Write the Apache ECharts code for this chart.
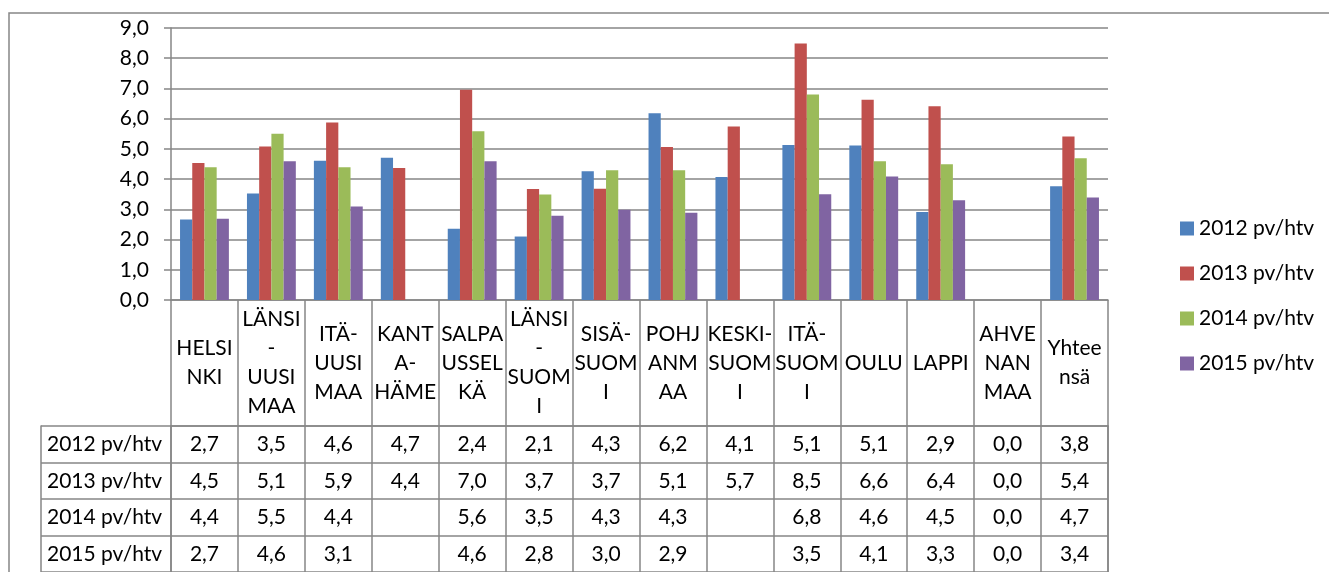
<!DOCTYPE html>
<html>
<head>
<meta charset="utf-8">
<script src="https://cdn.jsdelivr.net/npm/echarts@6/dist/echarts.min.js"></script>
<style>
  html, body { margin: 0; padding: 0; background: #fff; }
  #chart { width: 1329px; height: 572px; }
</style>
</head>
<body>
<div id="chart"></div>
<script>
const categories = [
  'HELSI\nNKI', 'LÄNSI\n-\nUUSI\nMAA', 'ITÄ-\nUUSI\nMAA', 'KANT\nA-\nHÄME', 'SALPA\nUSSEL\nKÄ',
  'LÄNSI\n-\nSUOM\nI', 'SISÄ-\nSUOM\nI', 'POHJ\nANM\nAA', 'KESKI-\nSUOM\nI', 'ITÄ-\nSUOM\nI',
  'OULU', 'LAPPI', 'AHVE\nNAN\nMAA', 'Yhtee\nnsä'
]
const seriesNames = ['2012 pv/htv', '2013 pv/htv', '2014 pv/htv', '2015 pv/htv']
const values2012 = [2.66, 3.52, 4.61, 4.71, 2.36, 2.10, 4.26, 6.18, 4.07, 5.13, 5.11, 2.91, 0, 3.76]
const values2013 = [4.53, 5.08, 5.87, 4.37, 6.96, 3.67, 3.68, 5.06, 5.74, 8.49, 6.63, 6.41, 0, 5.41]
const values2014 = [4.39, 5.50, 4.39, null, 5.58, 3.49, 4.29, 4.29, null, 6.80, 4.59, 4.49, 0, 4.69]
const values2015 = [2.69, 4.59, 3.09, null, 4.59, 2.79, 2.99, 2.89, null, 3.50, 4.09, 3.30, 0, 3.39]
const yTicks = [0, 1, 2, 3, 4, 5, 6, 7, 8, 9]
const colors = ['#4F81BD', '#C0504D', '#9BBB59', '#8064A2']

const allValues = [values2012, values2013, values2014, values2015]
const font = 'Lato, "Open Sans", sans-serif'
const lineColor = '#868686'

function fmt(v) {
  return v.toFixed(1).replace('.', ',')
}

const tableCells = []
allValues.forEach((vals, row) => {
  vals.forEach((v, col) => {
    if (v !== null) tableCells.push([col, row, v])
  })
})

const chart = echarts.init(document.getElementById('chart'))

chart.setOption({
  animation: false,
  color: colors,
  textStyle: {fontFamily: font},
  graphic: [
    {
      type: 'polyline',
      shape: {points: [[9, 580], [9, 13], [1340, 13]]},
      style: {stroke: lineColor, lineWidth: 1.5, fill: null}
    }
  ],
  legend: {
    data: seriesNames,
    orient: 'vertical',
    left: 1175,
    top: 211,
    itemWidth: 14,
    itemHeight: 14,
    itemGap: 20,
    icon: 'rect',
    textStyle: {fontSize: 21, color: '#000', fontFamily: font, lineHeight: 25}
  },
  grid: [
    {left: 171, top: 28, width: 937, height: 272},
    {left: 171, top: 426, width: 937, height: 154}
  ],
  xAxis: [
    {
      type: 'category',
      gridIndex: 0,
      data: categories,
      axisLine: {lineStyle: {color: lineColor, width: 1.5}},
      axisTick: {show: true, length: 126, interval: 0, lineStyle: {color: lineColor, width: 1.5}},
      axisLabel: {
        interval: 0, fontSize: 21, lineHeight: 29, color: '#000', fontFamily: font,
        margin: 63, verticalAlign: 'middle'
      }
    },
    {
      type: 'category',
      gridIndex: 1,
      position: 'top',
      data: categories,
      axisLine: {lineStyle: {color: lineColor, width: 1.5}},
      axisTick: {show: false},
      axisLabel: {show: false},
      splitLine: {show: true, interval: 0, lineStyle: {color: lineColor, width: 1.5}}
    }
  ],
  yAxis: [
    {
      type: 'value',
      gridIndex: 0,
      min: yTicks[0],
      max: yTicks[yTicks.length - 1],
      interval: 1,
      axisLine: {show: true, lineStyle: {color: lineColor, width: 1.5}},
      axisTick: {show: true, length: 7, lineStyle: {color: lineColor, width: 1.5}},
      axisLabel: {formatter: v => fmt(v), fontSize: 21, color: '#000', fontFamily: font, margin: 22},
      splitLine: {lineStyle: {color: lineColor, width: 1.5}}
    },
    {
      type: 'category',
      gridIndex: 1,
      inverse: true,
      data: seriesNames,
      axisLine: {show: true, lineStyle: {color: lineColor, width: 1.5}},
      axisTick: {show: true, length: 130, interval: 0, lineStyle: {color: lineColor, width: 1.5}},
      axisLabel: {align: 'left', margin: 124, fontSize: 21, color: '#000', fontFamily: font},
      splitLine: {show: true, interval: 0, lineStyle: {color: lineColor, width: 1.5}}
    },
    {
      type: 'category',
      gridIndex: 1,
      position: 'left',
      offset: 130,
      data: seriesNames,
      axisLine: {show: true, lineStyle: {color: lineColor, width: 1.5}},
      axisTick: {show: false},
      axisLabel: {show: false}
    },
    {
      type: 'category',
      gridIndex: 1,
      position: 'right',
      data: seriesNames,
      axisLine: {show: true, lineStyle: {color: lineColor, width: 1.5}},
      axisTick: {show: false},
      axisLabel: {show: false}
    }
  ],
  series: [
    ...seriesNames.map((name, i) => ({
      name: name,
      type: 'bar',
      xAxisIndex: 0,
      yAxisIndex: 0,
      data: allValues[i],
      barGap: '0%',
      barCategoryGap: '27%'
    })),
    {
      name: 'table',
      type: 'custom',
      xAxisIndex: 1,
      yAxisIndex: 1,
      clip: false,
      data: tableCells,
      renderItem: (params, api) => {
        const p = api.coord([api.value(0), api.value(1)])
        return {
          type: 'text',
          x: p[0],
          y: p[1],
          style: {
            text: fmt(api.value(2)),
            align: 'center',
            verticalAlign: 'middle',
            fontSize: 21,
            fontFamily: font,
            fill: '#000'
          }
        }
      }
    }
  ]
})
</script>
</body>
</html>
